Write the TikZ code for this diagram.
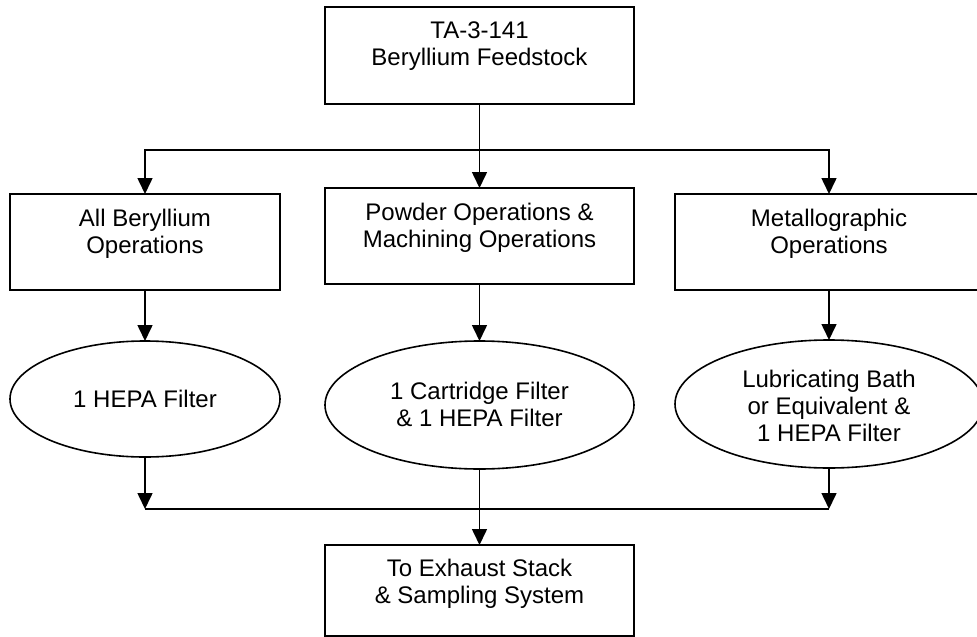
\documentclass[tikz,border=0pt]{standalone}
\usepackage{fontspec}
\setmainfont{Liberation Sans}
\usetikzlibrary{arrows.meta,shapes.geometric}
\tikzset{
  blk/.style={draw, line width=1.8pt, rectangle, inner sep=0pt, outer sep=0pt},
  filt/.style={draw, line width=1.6pt, ellipse, inner sep=0pt, outer sep=0pt},
  lbl/.style={align=center, inner sep=0pt, outer sep=0pt, anchor=north,
    font=\fontsize{24}{27}\selectfont,
    execute at begin node=\strut, execute at end node=\strut},
  flow/.style={line width=1.6pt, -{Triangle[length=16pt,width=15pt]}},
  wire/.style={line width=1.6pt}
}
\begin{document}
\begin{tikzpicture}[x=1pt,y=-1pt]
  \clip (0,0) rectangle (977,637);

  % process boxes
  \node[blk, minimum width=309pt, minimum height=97pt] (feed)   at (479.5,55.5) {};
  \node[blk, minimum width=270pt, minimum height=96pt] (allbe)  at (145,242) {};
  \node[blk, minimum width=309pt, minimum height=96pt] (powder) at (479.5,236) {};
  \node[blk, minimum width=308pt, minimum height=96pt] (metal)  at (829,242) {};
  \node[blk, minimum width=309pt, minimum height=91pt] (exh)    at (479.5,590.5) {};

  % filter stages
  \node[filt, minimum width=270pt, minimum height=116pt] (hepa) at (145,399) {};
  \node[filt, minimum width=309pt, minimum height=128pt] (cart) at (479.5,405) {};
  \node[filt, minimum width=308pt, minimum height=128pt] (lube) at (829,404) {};

  % labels
  \node[lbl] (feed-t)   at (479.5,22.1)  {TA-3-141\\Beryllium Feedstock};
  \node[lbl] (allbe-t)  at (145,209.1)   {All Beryllium\\Operations};
  \node[lbl] (powder-t) at (479.5,203.1) {Powder Operations \&\\Machining Operations};
  \node[lbl] (metal-t)  at (829,209.1)   {Metallographic\\Operations};
  \node[lbl] (hepa-t)   at (145,388.6)   {1 HEPA Filter};
  \node[lbl] (cart-t)   at (479.5,382.1) {1 Cartridge Filter\\\& 1 HEPA Filter};
  \node[lbl] (lube-t)   at (829,370.1)   {Lubricating Bath\\or Equivalent \&\\1 HEPA Filter};
  \node[lbl] (exh-t)    at (479.5,559.6) {To Exhaust Stack\\\& Sampling System};

  % split and merge rails
  \coordinate (spl) at (479.5,150);
  \coordinate (mrg) at (479.5,509);

  \draw[flow] (feed.south) -- (powder.north);
  \draw[flow] (feed.south) -- (feed.south |- spl) -| (allbe.north);
  \draw[flow] (feed.south) -- (feed.south |- spl) -| (metal.north);

  \draw[flow] (allbe.south)  -- (hepa.north);
  \draw[flow] (powder.south) -- (cart.north);
  \draw[flow] (metal.south)  -- (lube.north);

  \draw[wire] (hepa.south |- mrg) -- (lube.south |- mrg);
  \draw[flow] (hepa.south) -- (hepa.south |- mrg);
  \draw[flow] (lube.south) -- (lube.south |- mrg);
  \draw[flow] (cart.south) -- (exh.north);
\end{tikzpicture}
\end{document}
